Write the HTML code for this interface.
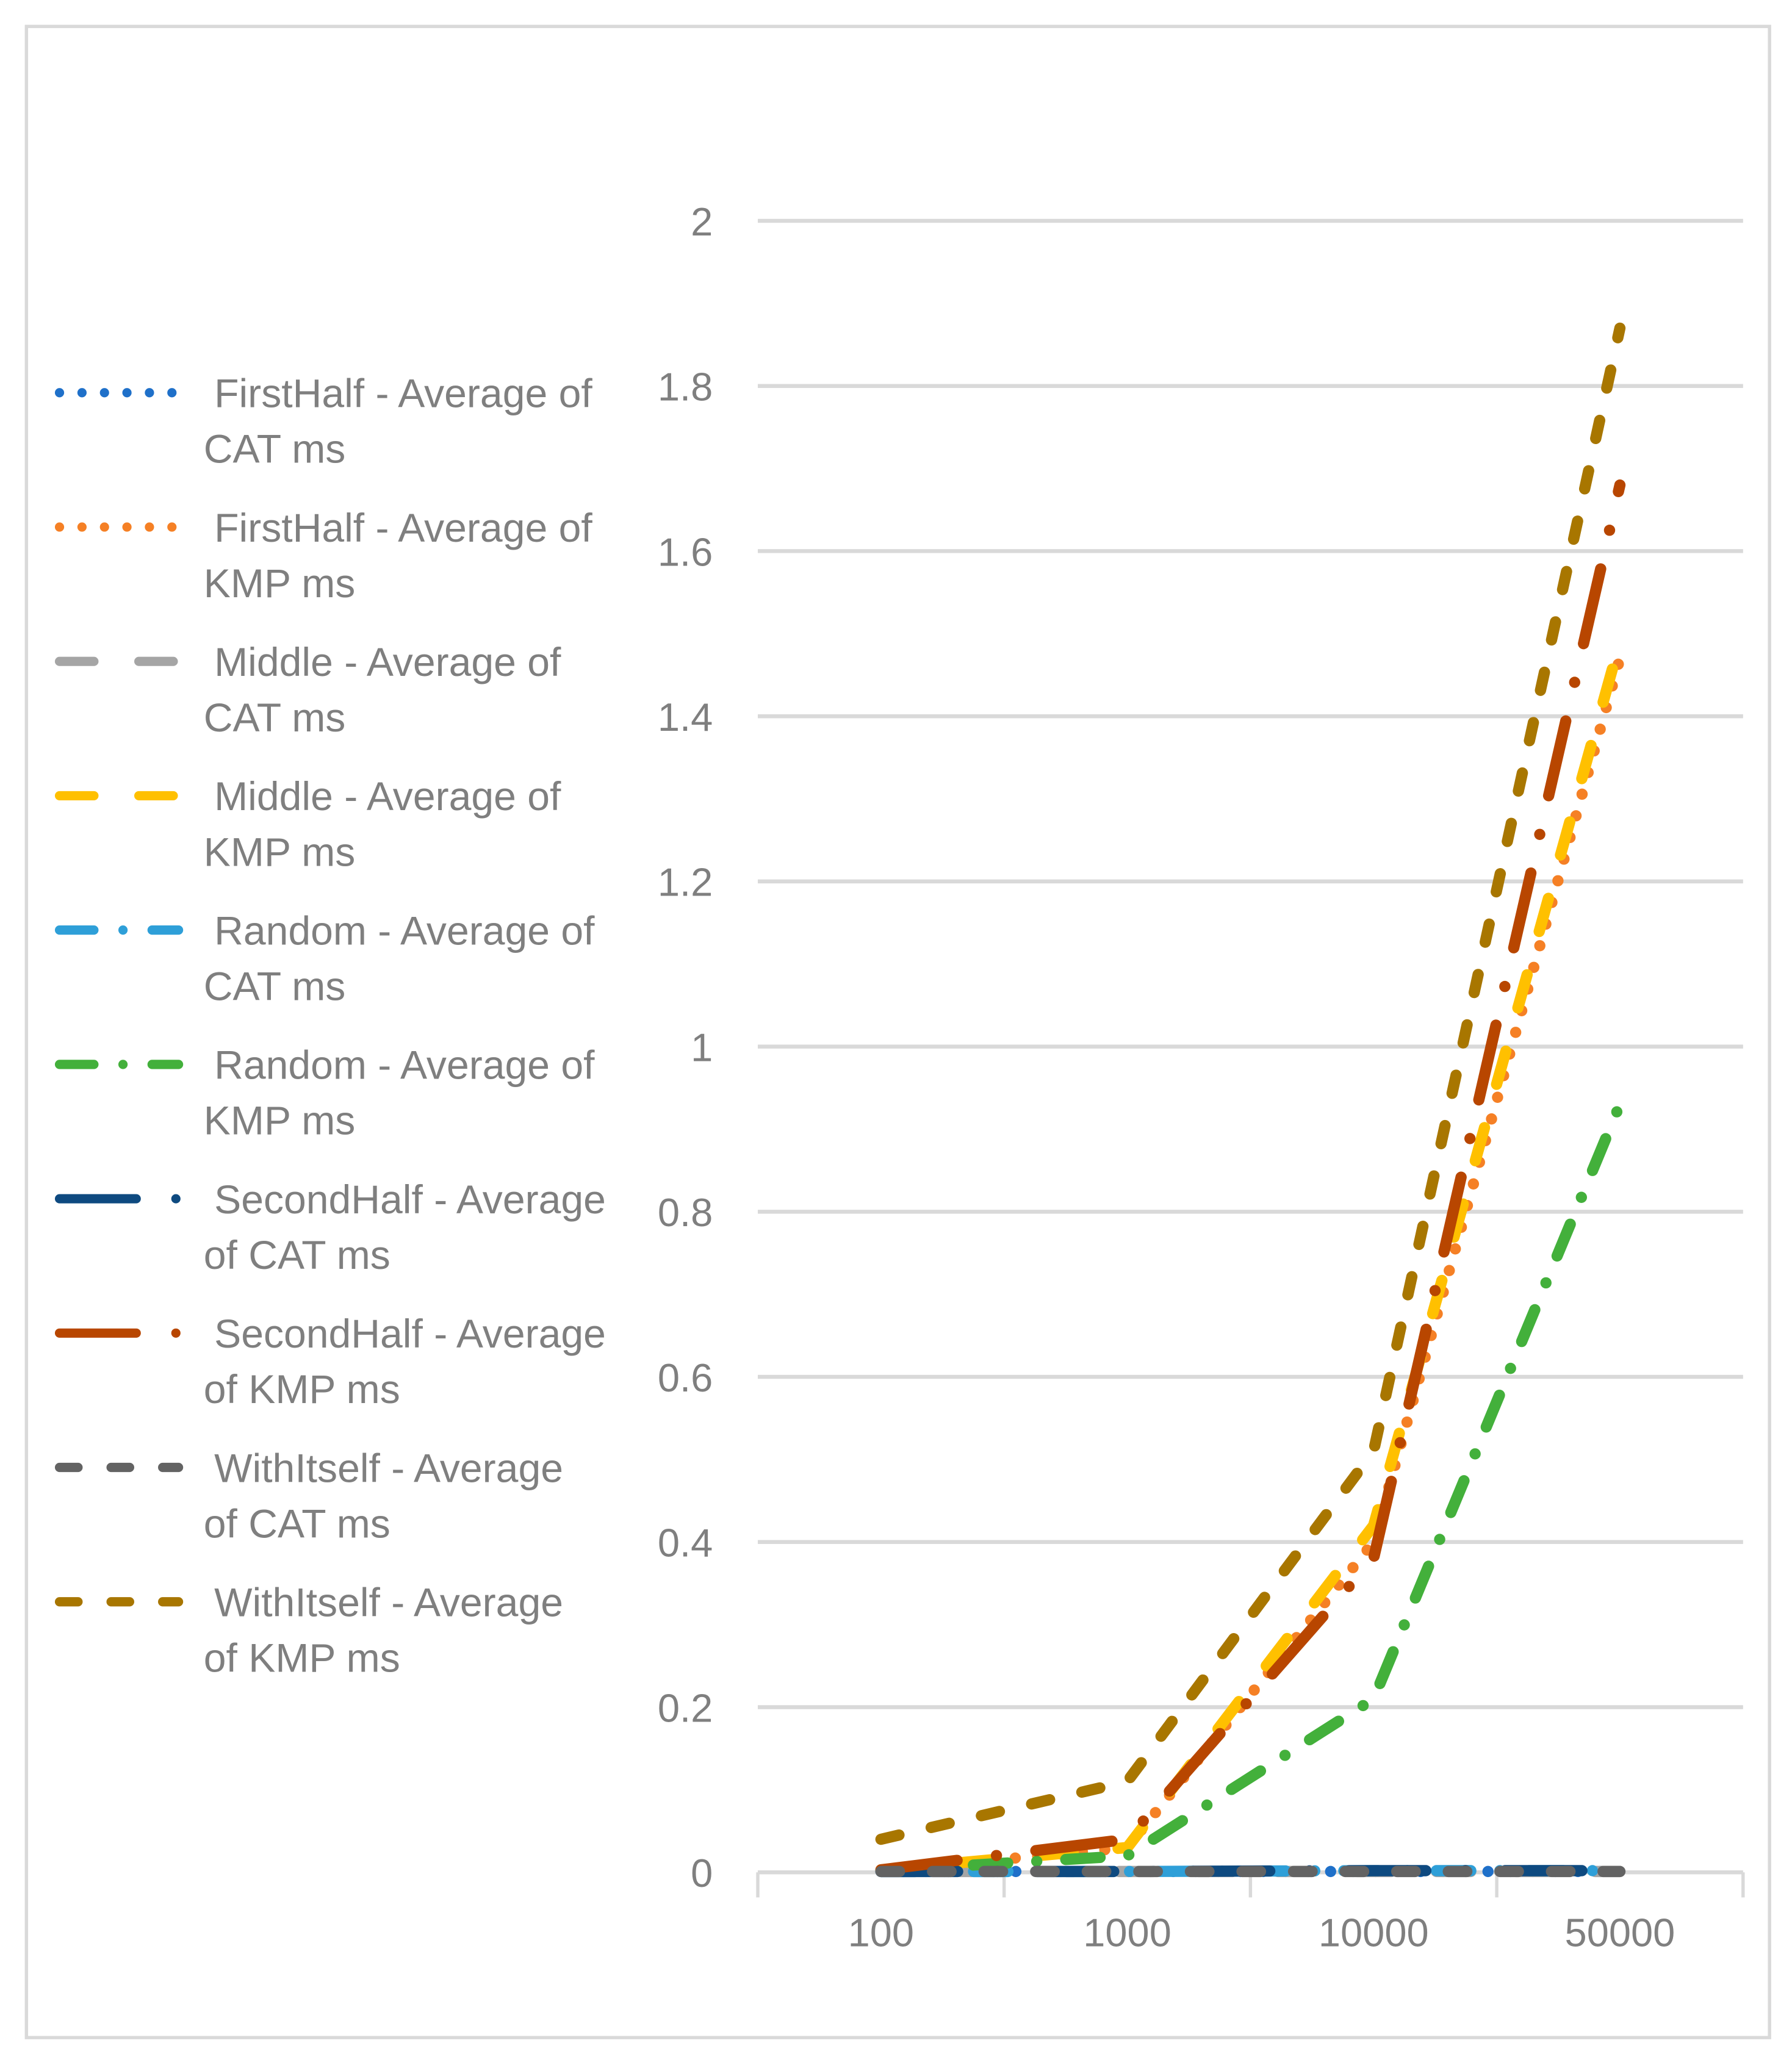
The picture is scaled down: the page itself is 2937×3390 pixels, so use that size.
<!DOCTYPE html>
<html><head><meta charset="utf-8"><style>
html,body{margin:0;padding:0;background:#fff;}
svg{display:block;}
text{font-family:"Liberation Sans",sans-serif;fill:#7f7f7f;}
</style></head><body>
<svg id="chart" xmlns="http://www.w3.org/2000/svg" width="2937" height="3390" viewBox="0 0 1355 1564" preserveAspectRatio="none">
<rect x="20" y="20" width="1318" height="1521" fill="#fff" stroke="#d9d9d9" stroke-width="2.5"/>
<g id="grid"></g>
<g id="series"></g>
<g id="legend"></g>
</svg>
<script>
const categories = ["100","1000","10000","50000"];
const yTicks = [0,0.2,0.4,0.6,0.8,1,1.2,1.4,1.6,1.8,2];
const yTickLabels = ["0","0.2","0.4","0.6","0.8","1","1.2","1.4","1.6","1.8","2"];
const firstHalfCAT = [0.001,0.001,0.001,0.001];
const firstHalfKMP = [0.002,0.03,0.40,1.47];
const middleCAT = [0.001,0.001,0.001,0.001];
const middleKMP = [0.003,0.03,0.42,1.49];
const randomCAT = [0.001,0.001,0.002,0.002];
const randomKMP = [0.002,0.02,0.21,0.93];
const secondHalfCAT = [0.001,0.001,0.002,0.002];
const secondHalfKMP = [0.003,0.04,0.38,1.68];
const withItselfCAT = [0.001,0.001,0.001,0.001];
const withItselfKMP = [0.04,0.11,0.51,1.87];
const seriesNames = [["FirstHalf - Average of","CAT ms"],["FirstHalf - Average of","KMP ms"],["Middle - Average of","CAT ms"],["Middle - Average of","KMP ms"],["Random - Average of","CAT ms"],["Random - Average of","KMP ms"],["SecondHalf - Average","of  CAT ms"],["SecondHalf - Average","of  KMP ms"],["WithItself - Average","of  CAT ms"],["WithItself - Average","of  KMP ms"]];

const NS="http://www.w3.org/2000/svg";
const X0=573,X1=1318,Y0=1416,Y2=167;
const band=(X1-X0)/categories.length;
function xScale(i){return X0+band*(i+0.5);}
function yScale(v){return Y0-(Y0-Y2)*v/2;}
function mk(tag,attrs,parent){const e=document.createElementNS(NS,tag);for(const k in attrs)e.setAttribute(k,attrs[k]);parent.appendChild(e);return e;}

const grid=document.getElementById('grid');
yTicks.forEach((t,i)=>{
  if(i>0){const l=mk('line',{x1:X0,x2:X1,y1:yScale(t),y2:yScale(t),stroke:'#d9d9d9','stroke-width':3},grid);
  
  }
  const tx=mk('text',{x:539,y:yScale(t)+11,'text-anchor':'end','font-size':30},grid);
  tx.textContent=yTickLabels[i];
  
  
});
const ax=mk('line',{x1:X0,x2:X1,y1:Y0,y2:Y0,stroke:'#d9d9d9','stroke-width':3},grid);


for(let i=0;i<=categories.length;i++){
  const tk=mk('line',{x1:X0+band*i,x2:X0+band*i,y1:Y0,y2:Y0+19,stroke:'#d9d9d9','stroke-width':2.5},grid);
  
  
}
categories.forEach((c,i)=>{
  const tx=mk('text',{x:xScale(i),y:1472,'text-anchor':'middle','font-size':30},grid);
  tx.textContent=c;
  
  
});

const styles=[
 {d:firstHalfCAT,c:'#1f70c9',dash:'0 17'},
 {d:firstHalfKMP,c:'#f58025',dash:'0 17'},
 {d:middleCAT,c:'#a5a5a5',dash:'26 34'},
 {d:middleKMP,c:'#ffc000',dash:'26 34'},
 {d:randomCAT,c:'#2e9fd8',dash:'26 22 0 22'},
 {d:randomKMP,c:'#43b03b',dash:'26 22 0 22'},
 {d:secondHalfCAT,c:'#0e4a80',dash:'58 30 0 30'},
 {d:secondHalfKMP,c:'#b84600',dash:'58 30 0 30'},
 {d:withItselfCAT,c:'#636363',dash:'14 25'},
 {d:withItselfKMP,c:'#a87600',dash:'14 25'}
];
const sg=document.getElementById('series');
const lg=document.getElementById('legend');
styles.forEach((s,k)=>{
  const pts=s.d.map((v,i)=>xScale(i)+','+yScale(v)).join(' ');
  const p=mk('polyline',{points:pts,fill:'none',stroke:s.c,'stroke-width':8.5,'stroke-dasharray':s.dash,'stroke-linecap':'round','stroke-linejoin':'round'},sg);
  
  
  const y=297+k*101.6;
  const g=mk('g',{},lg);
  
  
  mk('line',{x1:45,x2:135,y1:y,y2:y,stroke:s.c,'stroke-width':7,'stroke-dasharray':s.dash,'stroke-linecap':'round'},g);
  const t1=mk('text',{x:162,y:y+11,'font-size':30.5},g);
  t1.textContent=seriesNames[k][0];
  const t2=mk('text',{x:154,y:y+53,'font-size':30.5},g);
  t2.textContent=seriesNames[k][1];
});
</script>
</body></html>
